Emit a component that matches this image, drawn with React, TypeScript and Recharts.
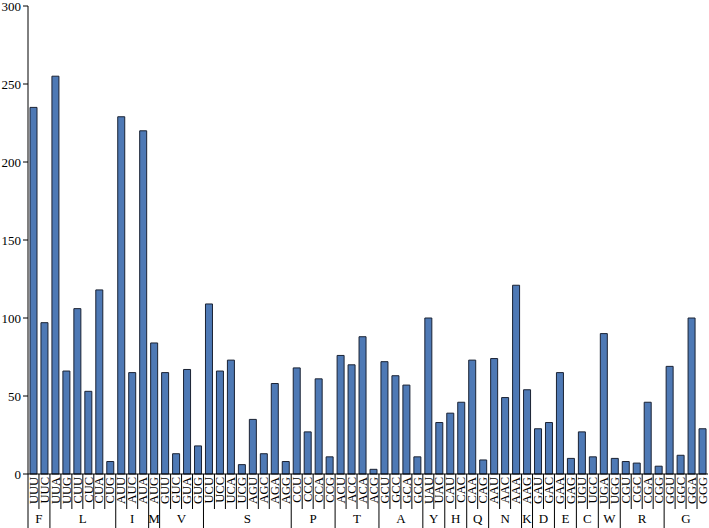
import { BarChart, Bar, XAxis, YAxis } from 'recharts'

const codons = [
  'UUU', 'UUC', 'UUA', 'UUG', 'CUU', 'CUC', 'CUA', 'CUG', 'AUU', 'AUC', 'AUA', 'AUG',
  'GUU', 'GUC', 'GUA', 'GUG', 'UCU', 'UCC', 'UCA', 'UCG', 'AGU', 'AGC', 'AGA', 'AGG',
  'CCU', 'CCC', 'CCA', 'CCG', 'ACU', 'ACC', 'ACA', 'ACG', 'GCU', 'GCC', 'GCA', 'GCG',
  'UAU', 'UAC', 'CAU', 'CAC', 'CAA', 'CAG', 'AAU', 'AAC', 'AAA', 'AAG', 'GAU', 'GAC',
  'GAA', 'GAG', 'UGU', 'UGC', 'UGA', 'UGG', 'CGU', 'CGC', 'CGA', 'CGG', 'GGU', 'GGC',
  'GGA', 'GGG',
]
const counts = [
  235, 97, 255, 66, 106, 53, 118, 8, 229, 65, 220, 84,
  65, 13, 67, 18, 109, 66, 73, 6, 35, 13, 58, 8,
  68, 27, 61, 11, 76, 70, 88, 3, 72, 63, 57, 11,
  100, 33, 39, 46, 73, 9, 74, 49, 121, 54, 29, 33,
  65, 10, 27, 11, 90, 10, 8, 7, 46, 5, 69, 12,
  100, 29,
]
const aminoAcids = ['F', 'L', 'I', 'M', 'V', 'S', 'P', 'T', 'A', 'Y', 'H', 'Q', 'N', 'K', 'D', 'E', 'C', 'W', 'R', 'G']
const groupSizes = [2, 6, 3, 1, 4, 8, 4, 4, 4, 2, 2, 2, 3, 1, 2, 2, 2, 2, 4, 4]
const yTicks = [0, 50, 100, 150, 200, 250, 300]

const W = 709
const H = 528
const LEFT = 28
const RIGHT = 1
const BAND = (W - LEFT - RIGHT) / codons.length

const data = codons.map((c, i) => ({ codon: c, count: counts[i] }))

// index of first codon -> group number
const groupStart: Record<number, number> = {}
let acc = 0
groupSizes.forEach((n, g) => { groupStart[acc] = g; acc += n })

function CodonTick(props: any) {
  const { x, y, payload } = props
  const i = codons.indexOf(payload.value)
  const left = x - BAND / 2
  const g = groupStart[i]
  const isStart = g !== undefined
  return (
    <g>
      <line x1={left} x2={left} y1={y} y2={isStart ? H : y + 35} stroke="#000" strokeWidth={1} />
      <text
        transform={`translate(${x + 4.2},${y + 3}) rotate(-90)`}
        textAnchor="end"
        fontSize={12.5}
        fontFamily="Liberation Serif"
        fill="#000"
      >
        {payload.value}
      </text>
      {isStart && (
        <text
          x={left + (groupSizes[g] * BAND) / 2}
          y={y + 49}
          textAnchor="middle"
          fontSize={13}
          fontFamily="Liberation Serif"
          fill="#000"
        >
          {aminoAcids[g]}
        </text>
      )}
    </g>
  )
}

export default function App() {
  return (
    <div style={{ position: 'absolute', left: 0, top: 0, background: '#fff' }}>
      <BarChart width={W} height={H} data={data} margin={{ top: 6, right: RIGHT, left: 0, bottom: 0 }} barCategoryGap={0}>
        <XAxis
          dataKey="codon"
          interval={0}
          height={54}
          tickSize={0}
          tickMargin={0}
          tickLine={false}
          axisLine={{ stroke: '#000' }}
          tick={<CodonTick />}
        />
        <YAxis
          width={LEFT}
          domain={[0, 300]}
          ticks={yTicks}
          interval={0}
          tickSize={5}
          tickMargin={2}
          axisLine={{ stroke: '#000' }}
          tickLine={{ stroke: '#000' }}
          tick={{ fontSize: 13, fill: '#000', fontFamily: 'Liberation Serif' }}
        />
        <Bar dataKey="count" barSize={7} fill="#4e79b5" stroke="#1a2233" strokeWidth={1} isAnimationActive={false} />
      </BarChart>
    </div>
  )
}
